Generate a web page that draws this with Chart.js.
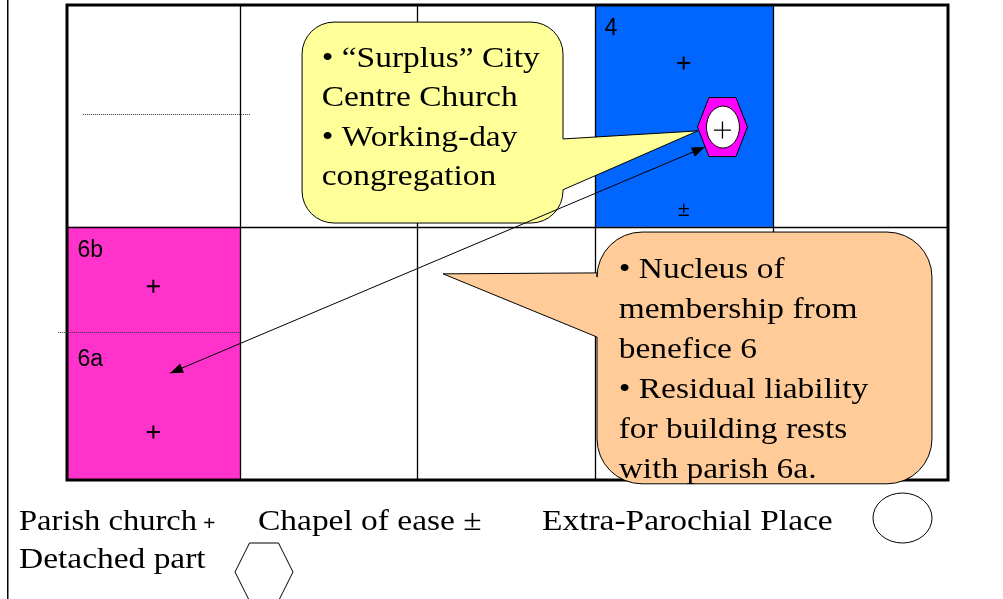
<!DOCTYPE html>
<html>
<head>
<meta charset="utf-8">
<script src="https://cdn.jsdelivr.net/npm/chart.js@4.4.0/dist/chart.umd.min.js"></script>
<style>
  html, body { margin: 0; padding: 0; background: #fff; overflow: hidden; }
  canvas { display: block; }
</style>
</head>
<body>
<canvas id="diagram" width="1003" height="599"></canvas>
<script>
// Parish grid: 5 columns, 2 rows (y runs 0 at top to 100 at bottom)
const columnEdges = [0, 0.982, 1.987, 2.997, 4.007, 5];
const rowEdges = [0, 46.7, 100];

// Shaded parish cells (column index, row index)
const shadedCols = [3, 0];
const shadedRows = [0, 1];

// Parish labels
const parishLabels = ['4', '6b', '6a'];
const parishLabelX = [3.05, 0.06, 0.06];
const parishLabelY = [6.3, 53.0, 76.0];

// Boundary between 6b and 6a, and the old boundary in the top-left parish
const boundaryY = [22.9, 68.8];
const boundaryFrom = [0.09, -0.05];
const boundaryTo = [1.04, 0.99];

// Churches
const churchX = [3.5, 0.49, 0.49];
const churchY = [12.2, 59.2, 89.9];
const chapelX = [3.5];
const chapelY = [43.2];
const detachedX = [3.72];
const detachedY = [25.7];

// Arrow between detached part and parish 6a
const arrowFrom = [3.62, 29.9];
const arrowTo = [0.585, 77.5];

// Callouts
const yellowNotes = ['\u2022 \u201cSurplus\u201d City', 'Centre Church', '\u2022 Working-day', 'congregation'];
const orangeNotes = ['\u2022 Nucleus of', 'membership from', 'benefice 6', '\u2022 Residual liability', 'for building rests', 'with parish 6a.'];

// Key
const keyLabels = ['Parish church', 'Chapel of ease \u00b1', 'Extra-Parochial Place', 'Detached part'];

const SERIF = '"Liberation Serif", "Times New Roman", serif';
const SANS = '"Liberation Sans", Arial, sans-serif';
const STRETCH = 1.115; // the original serif text is set a little wide

function wideText(ctx, text, x, y, stretch) {
    ctx.save();
    ctx.translate(x, y);
    ctx.scale(stretch || STRETCH, 1);
    ctx.fillText(text, 0, 0);
    ctx.restore();
}

function calloutPath(ctx, l, t, r, b, rad, side, baseA, baseB, tipX, tipY) {
    ctx.beginPath();
    ctx.moveTo(l + rad, t);
    ctx.lineTo(r - rad, t);
    ctx.arcTo(r, t, r, t + rad, rad);
    if (side === 'right') {
        ctx.lineTo(r, baseA);
        ctx.lineTo(tipX, tipY);
        ctx.lineTo(r, baseB);
    }
    ctx.lineTo(r, b - rad);
    ctx.arcTo(r, b, r - rad, b, rad);
    ctx.lineTo(l + rad, b);
    ctx.arcTo(l, b, l, b - rad, rad);
    if (side === 'left') {
        ctx.lineTo(l, baseB);
        ctx.lineTo(tipX, tipY);
        ctx.lineTo(l, baseA);
    }
    ctx.lineTo(l, t + rad);
    ctx.arcTo(l, t, l + rad, t, rad);
    ctx.closePath();
}

function hexagon(ctx, cx, cy, hw, hh, topHalf) {
    ctx.beginPath();
    ctx.moveTo(cx - topHalf, cy - hh);
    ctx.lineTo(cx + topHalf, cy - hh);
    ctx.lineTo(cx + hw, cy);
    ctx.lineTo(cx + topHalf, cy + hh);
    ctx.lineTo(cx - topHalf, cy + hh);
    ctx.lineTo(cx - hw, cy);
    ctx.closePath();
}

function arrowHead(ctx, fx, fy, tx, ty) {
    const a = Math.atan2(ty - fy, tx - fx);
    const len = 13, half = 5;
    ctx.beginPath();
    ctx.moveTo(tx, ty);
    ctx.lineTo(tx - len * Math.cos(a) + half * Math.sin(a), ty - len * Math.sin(a) - half * Math.cos(a));
    ctx.lineTo(tx - len * Math.cos(a) - half * Math.sin(a), ty - len * Math.sin(a) + half * Math.cos(a));
    ctx.closePath();
    ctx.fill();
}

const diagramPlugin = {
    id: 'parishDiagram',
    beforeDatasetsDraw(chart) {
        const ctx = chart.ctx;
        const xs = chart.scales.x, ys = chart.scales.y;
        const px = v => xs.getPixelForValue(v);
        const py = v => ys.getPixelForValue(v);
        const cellColors = ['#0066FF', '#FF33CC'];
        ctx.save();

        // shaded cells
        shadedCols.forEach((c, i) => {
            const r = shadedRows[i];
            ctx.fillStyle = cellColors[i];
            ctx.fillRect(px(columnEdges[c]), py(rowEdges[r]),
                px(columnEdges[c + 1]) - px(columnEdges[c]), py(rowEdges[r + 1]) - py(rowEdges[r]));
        });

        // inner grid lines
        ctx.strokeStyle = '#000';
        ctx.lineWidth = 1.3;
        columnEdges.slice(1, -1).forEach(v => {
            ctx.beginPath();
            ctx.moveTo(Math.round(px(v)) + 0.5, py(0));
            ctx.lineTo(Math.round(px(v)) + 0.5, py(100));
            ctx.stroke();
        });
        rowEdges.slice(1, -1).forEach(v => {
            ctx.beginPath();
            ctx.moveTo(px(0), Math.round(py(v)) + 0.5);
            ctx.lineTo(px(5), Math.round(py(v)) + 0.5);
            ctx.stroke();
        });

        // outer border
        ctx.lineWidth = 3;
        ctx.strokeRect(px(0), py(0), px(5) - px(0), py(100) - py(0));

        // dotted boundaries
        ctx.strokeStyle = '#333';
        ctx.lineWidth = 1;
        ctx.setLineDash([1, 1]);
        boundaryY.forEach((y, i) => {
            ctx.beginPath();
            ctx.moveTo(px(boundaryFrom[i]), Math.round(py(y)) + 0.5);
            ctx.lineTo(px(boundaryTo[i]), Math.round(py(y)) + 0.5);
            ctx.stroke();
        });
        ctx.setLineDash([]);

        // parish labels
        ctx.fillStyle = '#000';
        ctx.font = '23px ' + SANS;
        ctx.textBaseline = 'alphabetic';
        ctx.textAlign = 'left';
        parishLabels.forEach((t, i) => ctx.fillText(t, px(parishLabelX[i]), py(parishLabelY[i])));

        // chapels of ease
        ctx.font = '21px ' + SANS;
        ctx.textAlign = 'center';
        ctx.textBaseline = 'middle';
        chapelX.forEach((x, i) => ctx.fillText('\u00b1', px(x), py(chapelY[i])));
        ctx.restore();
    },
    afterDatasetsDraw(chart) {
        const ctx = chart.ctx;
        const xs = chart.scales.x, ys = chart.scales.y;
        const px = v => xs.getPixelForValue(v);
        const py = v => ys.getPixelForValue(v);
        ctx.save();
        ctx.strokeStyle = '#000';
        ctx.lineWidth = 1;

        // yellow callout
        calloutPath(ctx, px(1.334), py(3.6), px(2.815), py(45.9), 32, 'right',
            py(28.2), py(38.9), px(3.58), py(26.5));
        ctx.fillStyle = '#FFFF99';
        ctx.fill();
        ctx.stroke();
        ctx.fillStyle = '#000';
        ctx.font = '30px ' + SERIF;
        ctx.textAlign = 'left';
        ctx.textBaseline = 'alphabetic';
        yellowNotes.forEach((t, i) => wideText(ctx, t, px(1.4455), py(13.05) + i * 39.4));

        // orange callout
        calloutPath(ctx, px(3.008), py(47.8), px(4.909), py(100.8), 45, 'left',
            py(56.4), py(69.9), px(2.134), py(56.6));
        ctx.fillStyle = '#FFCC99';
        ctx.fill();
        ctx.stroke();
        ctx.fillStyle = '#000';
        orangeNotes.forEach((t, i) => wideText(ctx, t, px(3.131), py(57.5) + i * 40));

        // double-headed arrow
        const ax = px(arrowFrom[0]), ay = py(arrowFrom[1]);
        const bx = px(arrowTo[0]), by = py(arrowTo[1]);
        ctx.beginPath();
        ctx.moveTo(ax, ay);
        ctx.lineTo(bx, by);
        ctx.stroke();
        ctx.fillStyle = '#000';
        arrowHead(ctx, bx, by, ax, ay);
        arrowHead(ctx, ax, ay, bx, by);

        // detached part marker with extra-parochial church inside
        detachedX.forEach((x, i) => {
            const cx = px(x), cy = py(detachedY[i]);
            hexagon(ctx, cx, cy, 25, 29.5, 13.5);
            ctx.fillStyle = '#FF00FF';
            ctx.fill();
            ctx.stroke();
            ctx.beginPath();
            ctx.ellipse(cx + 0.5, cy, 16.5, 21, 0, 0, Math.PI * 2);
            ctx.fillStyle = '#fff';
            ctx.fill();
            ctx.stroke();
            ctx.beginPath();
            ctx.moveTo(cx - 8.5, cy + 3);
            ctx.lineTo(cx + 8.5, cy + 3);
            ctx.moveTo(cx, cy - 5.5);
            ctx.lineTo(cx, cy + 11.5);
            ctx.lineWidth = 1.3;
            ctx.stroke();
        });

        // key below the grid
        const keyTop = py(100);
        ctx.lineWidth = 1;
        ctx.fillStyle = '#000';
        ctx.font = '30px ' + SERIF;
        ctx.textAlign = 'left';
        wideText(ctx, keyLabels[0], 19, keyTop + 50, 1.085);
        wideText(ctx, keyLabels[1], 258, keyTop + 50);
        wideText(ctx, keyLabels[2], 542, keyTop + 50);
        wideText(ctx, keyLabels[3], 19, keyTop + 88);
        ctx.font = 'bold 22px ' + SERIF;
        ctx.fillText('+', 203, keyTop + 50);
        ctx.beginPath();
        ctx.ellipse(902.5, keyTop + 38, 29.5, 25, 0, 0, Math.PI * 2);
        ctx.stroke();
        hexagon(ctx, 264, keyTop + 92, 29, 29, 14.5);
        ctx.stroke();

        // page rule on the left
        ctx.lineWidth = 1.5;
        ctx.beginPath();
        ctx.moveTo(7.75, 0);
        ctx.lineTo(7.75, chart.height);
        ctx.stroke();
        ctx.restore();
    }
};

new Chart(document.getElementById('diagram'), {
    type: 'scatter',
    data: {
        datasets: [{
            label: 'Parish church',
            data: churchX.map((x, i) => ({ x: x, y: churchY[i] })),
            pointStyle: 'cross',
            pointRadius: 6.5,
            pointBorderWidth: 2,
            borderColor: '#000',
            backgroundColor: '#000'
        }]
    },
    options: {
        responsive: false,
        animation: false,
        devicePixelRatio: 1,
        layout: { autoPadding: false, padding: { left: 67, right: 55, top: 5, bottom: 119 } },
        plugins: {
            legend: { display: false },
            tooltip: { enabled: false }
        },
        scales: {
            x: { type: 'linear', min: 0, max: 5, display: false },
            y: { type: 'linear', min: 0, max: 100, reverse: true, display: false }
        }
    },
    plugins: [diagramPlugin]
});
</script>
</body>
</html>
